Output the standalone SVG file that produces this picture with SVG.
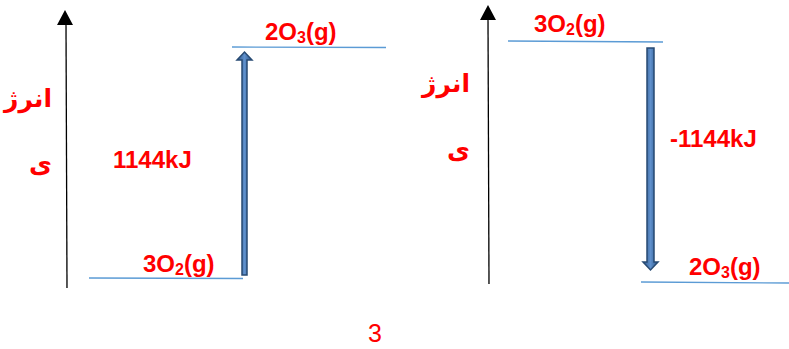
<svg xmlns="http://www.w3.org/2000/svg" width="789" height="349" viewBox="0 0 789 349">
<style>
.lbl{font-family:"Liberation Sans",Arial,sans-serif;font-weight:bold;font-size:24px;fill:#ff0000}
.ar{font-family:"DejaVu Sans","Noto Sans",sans-serif;font-weight:bold;font-size:25px;fill:#ff0000}
.lvl{stroke:#5b9bd5;stroke-width:1.3;fill:none}
.axis{stroke:#000;stroke-width:1.3;fill:none}
.sub{font-size:16px}
</style>
<defs>
<linearGradient id="g" x1="0" y1="0" x2="1" y2="0">
<stop offset="0" stop-color="#2b5488"/><stop offset="0.5" stop-color="#5f90cc"/><stop offset="1" stop-color="#2b5488"/>
</linearGradient>
</defs>
<g id="connectors">
<line class="axis" x1="67" y1="288" x2="66" y2="24"/>
<polygon points="65,10 57,25 73,25" fill="#000"/>
<line class="axis" x1="489" y1="284" x2="488" y2="19"/>
<polygon points="488,5 480,20 496,20" fill="#000"/>
<path d="M242,275 L242,60 L237,60 L244.5,52 L252,60 L247,60 L247,275 Z" fill="url(#g)" stroke="#274a73" stroke-width="1.5"/>
<path d="M647,48 L647,262 L643,262 L650.5,270 L658,262 L654,262 L654,48 Z" fill="url(#g)" stroke="#274a73" stroke-width="1.5"/>
</g>
<g id="left-low"><line class="lvl" x1="89" y1="278" x2="243" y2="278.5"/><text class="lbl" x="143" y="272">3O<tspan class="sub" dy="3">2</tspan><tspan dy="-3">(g)</tspan></text></g>
<g id="left-high"><line class="lvl" x1="232" y1="47" x2="386" y2="47.5"/><text class="lbl" x="265" y="40">2O<tspan class="sub" dy="3">3</tspan><tspan dy="-3">(g)</tspan></text></g>
<g id="left-energy"><text class="lbl" x="113" y="168">1144kJ</text></g>
<g id="left-axis-label"><text class="ar" x="52" y="107" text-anchor="end">انرژ</text><text class="ar" x="52" y="172" text-anchor="end">ی</text></g>
<g id="right-high"><line class="lvl" x1="508" y1="41" x2="663" y2="42"/><text class="lbl" x="534" y="32">3O<tspan class="sub" dy="3">2</tspan><tspan dy="-3">(g)</tspan></text></g>
<g id="right-low"><line class="lvl" x1="641" y1="282" x2="789" y2="283"/><text class="lbl" x="689" y="275">2O<tspan class="sub" dy="3">3</tspan><tspan dy="-3">(g)</tspan></text></g>
<g id="right-energy"><text class="lbl" x="670" y="147">-1144kJ</text></g>
<g id="right-axis-label"><text class="ar" x="470" y="92" text-anchor="end">انرژ</text><text class="ar" x="470" y="158" text-anchor="end">ی</text></g>
<g id="page"><text x="368" y="342" style="font-family:'Liberation Sans',Arial,sans-serif;font-size:25px;fill:#ff0000">3</text></g>
</svg>
